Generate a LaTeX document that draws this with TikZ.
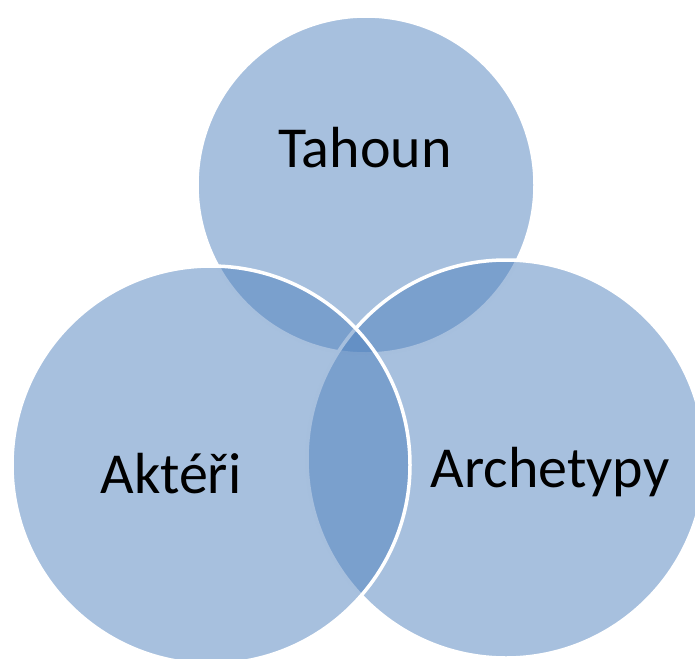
\documentclass[tikz,border=0pt]{standalone}
\usepackage{fontspec}
\setmainfont{Carlito}
\definecolor{accent}{HTML}{4F81BD}
\begin{document}
\begin{tikzpicture}[x=1pt,y=-1pt,
  venn/.style={circle, inner sep=0pt, minimum size=#1, fill=accent,
    fill opacity=0.5, draw=white, draw opacity=1, line width=3.5pt},
  label/.style={anchor=base, inner sep=0pt, text=black,
    font=\fontsize{58}{58}\selectfont}]
  \useasboundingbox (0,0) rectangle (695,658);
  % the three sets, drawn top, right, left
  \node[venn=338pt] (top)   at (366,185) {};
  \node[venn=398pt] (right) at (506,459) {};
  \node[venn=398pt] (left)  at (211,465) {};
  % set names
  \node[label] (tahoun) at (365,167) {Tahoun};
  \node[label] (akteri) at (171,493) {Aktéři};
  \node[label] (arch)   at (550,487) {Archetypy};
\end{tikzpicture}
\end{document}
